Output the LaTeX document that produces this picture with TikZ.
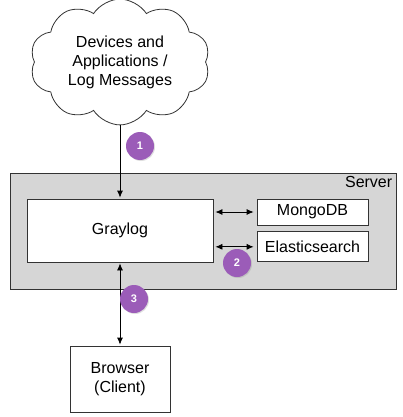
\documentclass[tikz,border=0pt]{standalone}
\usepackage{fontspec}
\setmainfont{Liberation Sans}
\usetikzlibrary{arrows.meta,positioning,shapes.symbols,shadows}

\definecolor{servergray}{HTML}{D6D6D6}
\definecolor{badgepurple}{HTML}{9B5CB8}

\begin{document}
\begin{tikzpicture}[x=1pt,y=-1pt,>={Latex[length=7pt,width=6pt]},shorten >=1pt,
    font=\fontsize{16}{19}\selectfont,
    box/.style={draw=black!80,fill=white,line width=0.8pt},
    badge/.style={circle,fill=badgepurple,text=white,minimum size=28pt,inner sep=0pt,
        font=\bfseries\fontsize{11}{13}\selectfont,
        drop shadow={opacity=0.25,shadow xshift=1pt,shadow yshift=-1pt}}]

            \useasboundingbox (0,0) rectangle (403,417);

            \node[cloud,draw=black!80,line width=0.8pt,fill=white,cloud puffs=10,cloud puff arc=115,aspect=1.5,
                  minimum width=180pt,minimum height=118pt,align=center] (devices) at (120,62)
                  {Devices and\\Applications /\\Log Messages};

            \node[draw=black!80,line width=0.8pt,fill=servergray,minimum width=386pt,minimum height=116pt] (server) at (203,231) {};

            \node[anchor=north east,inner sep=4pt] (serverlabel) at (server.north east) {Server};

            \node[box,minimum width=186pt,minimum height=63pt] (graylog) at (120,230.5) {Graylog};

            \node[box,minimum width=111pt,minimum height=26pt] (mongodb) at (312.5,212) {MongoDB};

            \node[box,minimum width=111pt,minimum height=30pt] (elastic) [below=6pt of mongodb] {Elasticsearch};

            \node[box,minimum width=100pt,minimum height=66pt,align=center] (browser) at (120,379) {Browser\\(Client)};

            \draw[->,line width=0.8pt] (devices.south) -- (graylog.north);
            \draw[<->,line width=0.8pt,shorten <=1pt] (graylog.south) -- (browser.north);

            \foreach \db in {mongodb, elastic}
           {
                \draw[<->,line width=0.8pt] ([xshift=2pt]graylog.east |- \db.west) -- ([xshift=-2pt]\db.west);
              }

            \node[badge] (b1) at (140,146) {1};
            \node[badge] (b2) at (237,263) {2};
            \node[badge] (b3) at (134,299) {3};

        \end{tikzpicture}
\end{document}
